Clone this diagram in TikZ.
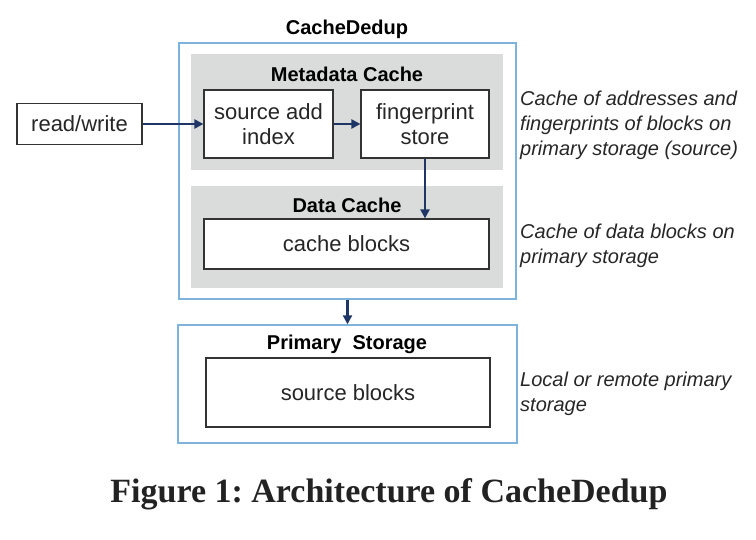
\documentclass[tikz,border=0pt]{standalone}
\usepackage{fontspec}
\setmainfont{Liberation Sans}
\newfontfamily\capfont{Liberation Serif}
\usetikzlibrary{arrows.meta}
\frenchspacing
\definecolor{outerblue}{HTML}{7DB4DE}
\definecolor{panelgray}{HTML}{D9DCDB}
\definecolor{arrownavy}{HTML}{1F3566}
\definecolor{captext}{HTML}{222222}
\tikzset{
  bold/.style={font=\fontsize{20}{25}\selectfont\bfseries, inner sep=0pt},
  outerbox/.style={draw=outerblue, line width=1.4pt, inner sep=0pt},
  panel/.style={fill=panelgray, draw=none, inner sep=0pt},
  whitebox/.style={draw=black!80, line width=1.2pt, fill=white, inner sep=0pt, align=center, font=\fontsize{22}{25}\selectfont, text=black!85},
  note/.style={font=\fontsize{20}{25}\selectfont\itshape, inner sep=0pt, align=left, anchor=west, text=black!85},
  conn/.style={draw=arrownavy, line width=2.2pt, -{Triangle[length=9pt,width=9pt]}},
}
\begin{document}
\begin{tikzpicture}[x=1pt,y=-1pt]
\useasboundingbox (0,0) rectangle (756,540);
% outer boxes
\node[outerbox, minimum width=337pt, minimum height=256pt] (outer) at (347.5,171) {};
\node[outerbox, minimum width=339pt, minimum height=118pt] (prim) at (347.5,384) {};
% panels
\node[panel, minimum width=312pt, minimum height=116pt] (meta) at (347,112) {};
\node[panel, minimum width=312pt, minimum height=102pt] (data) at (347,237) {};
% titles
\node[bold] (t1) at (347,29) {CacheDedup};
\node[bold] (t2) at (347,74) {Metadata Cache};
\node[bold] (t3) at (347,205) {Data Cache};
\node[bold] (t4) at (347,344) {Primary\ \ Storage};
% white boxes
\node[whitebox, minimum width=129pt, minimum height=68pt] (src) at (268.5,124) {source add\\index};
\node[whitebox, minimum width=128pt, minimum height=68pt] (fp) at (425,124) {fingerprint\\store};
\node[whitebox, minimum width=285pt, minimum height=50pt] (cb) at (346.5,244) {cache blocks};
\node[whitebox, minimum width=284pt, minimum height=69pt] (sb) at (348,392.5) {source blocks};
\node[whitebox, minimum width=125pt, minimum height=41pt] (rw) at (79.5,124) {read/write};
% notes
\node[note] (n1) at (520,125) {Cache of addresses and\\fingerprints of blocks on\\primary storage (source)};
\node[note] (n2) at (520,246) {Cache of data blocks on\\primary storage};
\node[note] (n3) at (520,394) {Local or remote primary\\storage};
% arrows
\draw[conn] (rw.east) -- (src.west);
\draw[conn] (src.east) -- (fp.west);
\draw[conn] (fp.south) -- (fp.south |- cb.north);
\draw[conn] (outer.south) -- (prim.north);
% caption
\node[inner sep=0pt, text=captext, font=\fontsize{34}{40}\selectfont\capfont\bfseries] (cap) at (389,494) {Figure 1: Architecture of CacheDedup};
\end{tikzpicture}
\end{document}
